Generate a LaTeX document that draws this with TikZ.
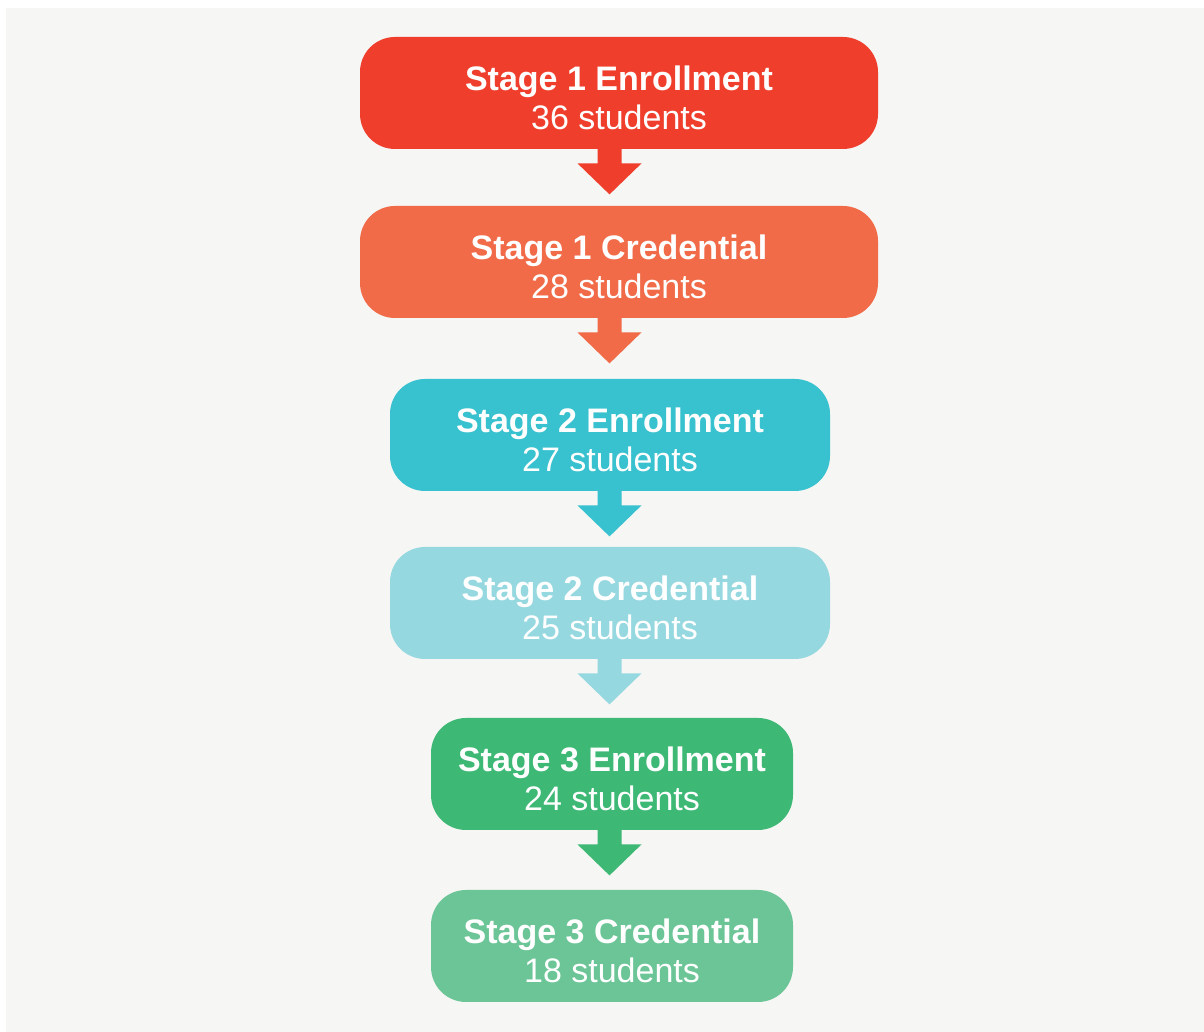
\documentclass[tikz,border=0pt]{standalone}
\usepackage{fontspec}
\setmainfont{Liberation Sans}
\usepackage{xcolor}

\definecolor{bggray}{HTML}{F6F6F4}
\definecolor{redA}{HTML}{EF3E2C}
\definecolor{orangeA}{HTML}{F16B48}
\definecolor{tealA}{HTML}{38C1CE}
\definecolor{tealB}{HTML}{96D8E0}
\definecolor{greenA}{HTML}{3DB875}
\definecolor{greenB}{HTML}{6CC597}

\newcommand{\stagetext}[2]{\rule{0pt}{17pt}\textbf{#1}\\#2}

\begin{document}
\begin{tikzpicture}[x=0.5pt,y=0.5pt,
    stage/.style={rounded corners=17.5pt,inner sep=0pt,minimum height=56pt,
        align=center,text=white,font=\fontsize{17}{19.5}\selectfont},
    wideA/.style={minimum width=259pt},
    wideB/.style={minimum width=220pt},
    wideC/.style={minimum width=181pt}]
                \fill[white] (0,0) rectangle (1204,1032);
                \fill[bggray] (6,0) rectangle (1204,1024);
                \useasboundingbox (0,0) rectangle (1204,1032);
                \coordinate (ax) at (609.5,0);
                % boxes
                \node[stage,wideA,fill=redA] (s1e) at (619,939) {\stagetext{Stage 1 Enrollment}{36 students}};
                \node[stage,wideA,fill=orangeA] (s1c) at (619,770) {\stagetext{Stage 1 Credential}{28 students}};
                \node[stage,wideB,fill=tealA] (s2e) at (610,597) {\stagetext{Stage 2 Enrollment}{27 students}};
                \node[stage,wideB,fill=tealB] (s2c) at (610,429) {\stagetext{Stage 2 Credential}{25 students}};
                \node[stage,wideC,fill=greenA] (s3e) at (612,258) {\stagetext{Stage 3 Enrollment}{24 students}};
                \node[stage,wideC,fill=greenB] (s3c) at (612,86) {\stagetext{Stage 3 Credential}{18 students}};
                % arrows
                \foreach \n/\c in {s1e/redA,s1c/orangeA,s2e/tealA,s2c/tealB,s3e/greenA}
                {
                    \fill[\c] (ax |- \n.south) ++(-12,1) -- ++(0,-15) -- ++(-20,0) -- ++(32,-31)
                        -- ++(32,31) -- ++(-20,0) -- ++(0,15) -- cycle;
                }
            \end{tikzpicture}
\end{document}
